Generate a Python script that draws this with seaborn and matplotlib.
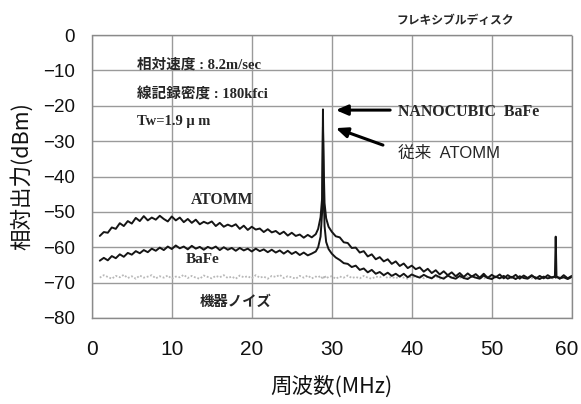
import numpy as np
import pandas as pd
import matplotlib
matplotlib.use("Agg")
import matplotlib.pyplot as plt
import matplotlib.transforms as mtransforms
import seaborn as sns

# ---------------- data ----------------
freq = [1.0, 1.5, 2.0, 2.5, 3.0, 3.5, 4.0, 4.5, 5.0, 5.5, 6.0, 6.5, 7.0, 7.5, 8.0, 8.5,
        9.0, 9.5, 10.0, 10.5, 11.0, 11.5, 12.0, 12.5, 13.0, 13.5, 14.0, 14.5, 15.0, 15.5,
        16.0, 16.5, 17.0, 17.5, 18.0, 18.5, 19.0, 19.5, 20.0, 20.5, 21.0, 21.5, 22.0, 22.5,
        23.0, 23.5, 24.0, 24.5, 25.0, 25.5, 26.0, 26.5, 27.0, 27.5, 28.0,
        28.3, 28.6, 28.8, 28.9, 29.0, 29.1, 29.3, 29.6,
        30.0, 30.5, 31.0, 31.5, 32.0, 32.5, 33.0, 33.5, 34.0, 34.5, 35.0, 35.5, 36.0, 36.5,
        37.0, 37.5, 38.0, 38.5, 39.0, 39.5, 40.0, 40.5, 41.0, 41.5, 42.0, 42.5, 43.0, 43.5,
        44.0, 44.5, 45.0, 45.5, 46.0, 46.5, 47.0, 47.5, 48.0, 48.5, 49.0, 49.5, 50.0, 50.5,
        51.0, 51.5, 52.0, 52.5, 53.0, 53.5, 54.0, 54.5, 55.0, 55.5, 56.0, 56.5, 57.0, 57.5,
        57.9, 58.0, 58.1, 58.5, 59.0, 59.5, 60.0]

atomm = [-56.8, -55.7, -55.9, -54.4, -54.8, -53.2, -54.0, -52.6, -53.3, -51.7, -52.6, -51.2,
         -52.4, -51.6, -52.2, -51.1, -52.0, -52.7, -51.3, -52.4, -51.6, -52.9, -52.0, -53.1,
         -52.2, -53.5, -52.8, -53.3, -52.7, -54.0, -53.1, -54.2, -53.6, -54.1, -53.5, -54.8,
         -53.9, -55.1, -54.2, -55.0, -54.7, -55.7, -54.9, -55.8, -55.4, -56.3, -55.6, -56.7,
         -55.9, -56.8, -56.4, -57.3, -56.5, -57.2, -56.3,
         -54.8, -51.5, -46.0, -26.0, -38.0, -47.5, -51.8, -54.2,
         -55.6, -56.9, -57.2, -58.6, -58.8, -60.2, -60.1, -61.5, -61.1, -62.6, -62.0, -63.4,
         -62.8, -64.0, -63.4, -64.7, -64.0, -65.3, -64.6, -65.9, -65.2, -66.2, -65.7, -66.9,
         -66.1, -67.3, -66.5, -67.7, -66.8, -67.9, -67.1, -68.2, -67.3, -68.4, -67.4, -68.3,
         -67.6, -68.6, -67.5, -68.7, -67.8, -68.5, -67.7, -68.8, -67.9, -68.6, -67.8, -68.9,
         -68.0, -68.7, -67.9, -68.9, -68.1, -68.8, -67.9, -68.6, -68.2, -57.0, -68.3, -68.9,
         -67.9, -68.8, -68.1]

bafe = [-63.8, -63.0, -63.7, -62.5, -63.1, -62.0, -62.7, -61.6, -62.1, -61.1, -61.7, -60.8,
        -61.4, -60.4, -61.0, -60.1, -60.8, -59.8, -60.5, -59.5, -60.3, -59.8, -60.6, -59.6,
        -60.4, -59.9, -60.7, -59.9, -60.4, -59.8, -60.8, -60.0, -60.7, -60.2, -61.0, -60.2,
        -60.9, -60.4, -61.2, -60.4, -61.1, -60.6, -61.4, -60.7, -61.5, -60.9, -61.8, -61.0,
        -61.9, -61.3, -62.2, -61.5, -62.3, -61.8, -61.2,
        -60.0, -57.0, -50.0, -21.0, -45.0, -54.0, -58.5, -60.5,
        -61.8, -62.9, -63.6, -64.5, -64.7, -65.6, -65.2, -66.4, -66.0, -67.1, -66.4, -67.5,
        -67.0, -67.9, -67.2, -68.1, -67.5, -68.3, -67.5, -68.5, -67.7, -68.2, -68.6, -67.8,
        -68.4, -68.8, -67.9, -68.5, -68.9, -68.0, -68.6, -68.9, -68.1, -68.7, -69.0, -68.2,
        -68.6, -68.9, -68.0, -68.7, -69.0, -68.3, -68.8, -68.1, -68.9, -68.4, -69.0, -68.2,
        -68.7, -68.9, -68.1, -68.6, -69.0, -68.3, -68.8, -68.5, -68.4, -68.6, -68.3, -68.8,
        -68.5, -69.0, -68.4]

noise = [-68.6, -67.9, -68.4, -68.9, -68.1, -68.5, -67.8, -68.7, -68.2, -68.9, -68.0, -68.6,
         -68.3, -67.9, -68.8, -68.2, -68.6, -68.0, -68.9, -68.3, -68.5, -67.8, -68.7, -68.1,
         -68.6, -68.9, -68.0, -68.4, -68.8, -68.1, -68.5, -67.9, -68.7, -68.3, -68.9, -68.0,
         -68.5, -68.2, -68.8, -67.9, -68.6, -68.3, -68.9, -68.1, -68.4, -67.8, -68.7, -68.2,
         -68.5, -68.9, -68.1, -68.6, -68.0, -68.8, -68.3,
         -68.5, -68.1, -68.7, -68.3, -68.6, -68.0, -68.8, -68.4,
         -68.2, -68.9, -68.3, -68.6, -68.0, -68.7, -68.4, -68.8, -68.1, -68.6, -68.9, -68.3,
         -68.5, -68.0, -68.7, -68.4, -68.8, -68.2, -68.6, -68.9, -68.3, -68.5, -68.1, -68.8,
         -68.4, -68.6, -68.2, -68.9, -68.5, -68.3, -68.7, -68.1, -68.6, -68.8, -68.4, -68.2,
         -68.7, -68.5, -68.9, -68.3, -68.6, -68.2, -68.8, -68.4, -68.7, -68.3, -68.9, -68.5,
         -68.2, -68.6, -68.8, -68.4, -68.7, -68.3, -68.6, -68.9, -68.5, -68.4, -68.6, -68.3,
         -68.7, -68.5, -68.8]

x_ticks = [0, 10, 20, 30, 40, 50, 60]
y_ticks = [0, -10, -20, -30, -40, -50, -60, -70, -80]

# ---------------- drawing ----------------
sns.set_style("white")
plt.rcParams['font.family'] = ['Liberation Sans', 'Noto Sans CJK JP']
plt.rcParams['axes.unicode_minus'] = True

fig = plt.figure(figsize=(5.81, 4.04), dpi=100)
ax = fig.add_axes([0.158, 0.213, 0.826, 0.700])

df_n = pd.DataFrame({"f": freq, "v": noise})
df_a = pd.DataFrame({"f": freq, "v": atomm})
df_b = pd.DataFrame({"f": freq, "v": bafe})

sns.lineplot(data=df_n, x="f", y="v", ax=ax, color="#b8b8b8", lw=1.3,
             linestyle=(0, (1, 1)), estimator=None, sort=False)
sns.lineplot(data=df_b, x="f", y="v", ax=ax, color="#151515", lw=1.4,
             estimator=None, sort=False)
sns.lineplot(data=df_a, x="f", y="v", ax=ax, color="#151515", lw=1.4,
             estimator=None, sort=False)

ax.set_xlim(0, 60)
ax.set_ylim(-80, 0)
ax.set_xticks(x_ticks)
ax.set_yticks(y_ticks)
ax.set_xticklabels([str(t) for t in x_ticks])
ax.set_yticklabels(["0" if t == 0 else "\u2212" + str(-t) for t in y_ticks])
ax.tick_params(axis="both", length=0, colors="#111111")
ax.tick_params(axis="y", pad=12, labelsize=13.5)
ax.tick_params(axis="x", pad=16, labelsize=15)
ax.grid(True, color="#9a9a9a", lw=1.0)
for s in ax.spines.values():
    s.set_color("#8a8a8a")
    s.set_linestyle((0, (1, 1)))
    s.set_linewidth(1.0)

ax.set_xlabel("周波数(MHz)", fontsize=15.5, labelpad=12, color="#111111",
              family=['Noto Sans CJK JP', 'DejaVu Sans'])
ax.set_ylabel("相対出力(dBm)", fontsize=15.5, labelpad=7, color="#111111",
              family=['Noto Sans CJK JP', 'DejaVu Sans'])

# keep the last x tick label inside the figure (as in the reference)
last = ax.xaxis.get_major_ticks()[-1].label1
last.set_transform(last.get_transform() +
                   mtransforms.ScaledTranslation(-5 / 100, 0, fig.dpi_scale_trans))

serif = ['Liberation Serif', 'Noto Sans CJK JP']
sans = ['Liberation Sans', 'Noto Sans CJK JP']
ax.text(5.6, -8.5, "相対速度 : 8.2m/sec", family=serif, fontsize=10.5,
        fontweight="bold", va="center", ha="left")
ax.text(5.6, -16.5, "線記録密度 : 180kfci", family=serif, fontsize=10.5,
        fontweight="bold", va="center", ha="left")
ax.text(5.6, -24.5, "Tw=1.9 μ m", family=serif, fontsize=10.5,
        fontweight="bold", va="center", ha="left")
ax.text(16.3, -46.6, "ATOMM", family=serif, fontsize=11.3, fontweight="bold",
        ha="center", va="center")
ax.text(13.8, -63.6, "BaFe", family=serif, fontsize=11, fontweight="bold",
        ha="center", va="center")
ax.text(18.0, -75.5, "機器ノイズ", family=sans, fontsize=10.4, fontweight="bold",
        ha="center", va="center")
ax.text(38.3, -21.7, "NANOCUBIC  BaFe", family=serif, fontsize=11.4,
        fontweight="bold", ha="left", va="center")
ax.text(38.3, -33.6, "従来  ATOMM", family=sans, fontsize=12,
        ha="left", va="center")

arrow = dict(arrowstyle="-|>,head_length=0.7,head_width=0.3", color="black", lw=2.2,
             shrinkA=0, shrinkB=0)
ax.annotate("", xy=(30.5, -21.2), xytext=(37.3, -21.2), arrowprops=arrow)
ax.annotate("", xy=(30.5, -26.3), xytext=(36.4, -31.1), arrowprops=arrow)

fig.text(0.783, 0.95, "フレキシブルディスク", family=['Noto Sans CJK JP'], fontsize=8.5,
         fontweight="bold", ha="center", va="center")

fig.savefig("out.png", dpi=100)
